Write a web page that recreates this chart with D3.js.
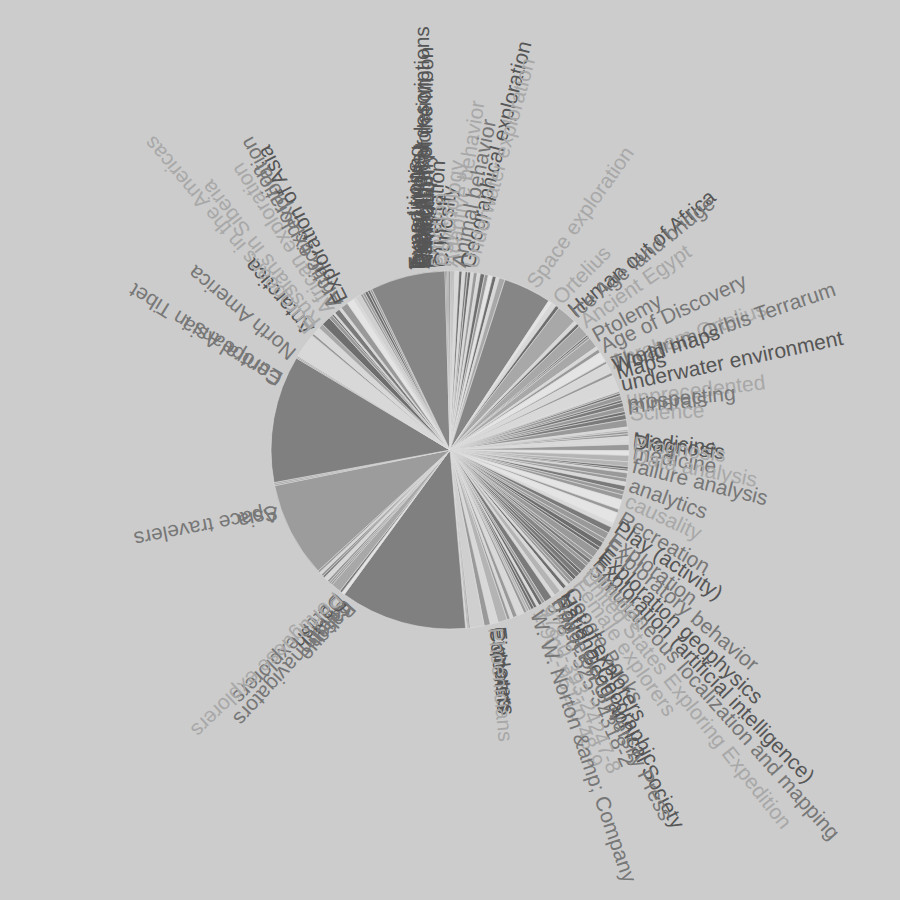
<!DOCTYPE html>
<html>
<head>
<meta charset="utf-8">
<script src="https://cdn.jsdelivr.net/npm/d3@7"></script>
<style>
  html, body { margin: 0; padding: 0; background: #cccccc; }
  svg { display: block; }
</style>
</head>
<body>
<svg id="chart" width="900" height="900"></svg>
<script>
// ---------- data (clockwise from 12 o'clock) ----------
const labels = [
  "Geographical descriptions","Antarctic exploration","Exploration of the Moon","Cartography","Navigation",
  "","expectation","emotion","","Curiosity","Psychology","","Adaptive behavior","","Animal behavior","",
  "Geographical exploration","Underwater exploration","",
  "","","Space exploration","","","Ortelius","","","Human out of Africa","Ice Age land bridge","",
  "Ancient Egypt","","","Ptolemy","","Age of Discovery","","Abraham Ortelius","Theatrum Orbis Terrarum","World maps",
  "","Maps","","","underwater environment","","","unprecedented","","prospecting","minerals","",
  "Science","","","","","Medicine","Diagnosis","Prognosis","","medicine","Data analysis","","failure analysis",
  "","","analytics","","causality","","","Recreation","","Play (activity)","","Exploration","",
  "Exploratory behavior","","Exploration geophysics","","Exploration (artificial intelligence)","",
  "Simultaneous localization and mapping","latitudes","","United States Exploring Expedition","",
  "Female explorers","","Google Books","List of explorers","","National Geographic","Royal Geographical Society",
  "Princeton University Press","","978-0-525-34318-2","","978-0-393-24247-8","","1-902-95110-48-9",
  "W. W. Norton &amp; Company","","","","","Explorers","Pioneers","Colonists","Phoenicians",
  "","","","","Basque","Italian","Circumnavigators","","Danish","Dutch explorers","Portuguese explorers","",
  "","Asia","Space travelers","","Central Asia","Europeans in Tibet","","North America","","","","",
  "Antarctica","Europeans in the Americas","","Russians in Siberia","","","African exploration","",
  "Arctic exploration","Antarctic exploration","","Exploration of Asia","","",
  "Expeditions","Travel writing","Descriptions","Exploration"
];
const values = [
  0.3,0.3,0.3,0.3,0.3,
  1.4,1.0,1.0,0.8,1.0,0.9,1.2,1.0,1.4,1.2,1.4,
  1.2,1.0,1.9,
  15.6,1.2,1.6,1.2,6.5,1.2,1.0,3.8,0.6,0.8,3.4,
  1.0,1.2,3.4,0.8,3.2,1.0,4.9,0.6,0.6,0.8,
  1.5,0.8,1.4,1.6,1.0,1.6,2.4,0.8,0.6,0.8,0.8,1.4,
  1.2,2.0,1.6,2.0,1.6,0.8,0.6,0.6,1.8,1.2,1.2,1.6,1.4,
  1.6,3.2,1.2,3.6,1.4,2.0,2.2,1.4,1.8,1.2,2.6,1.2,1.2,
  1.2,2.2,1.0,1.6,1.2,1.2,
  1.0,1.0,1.2,1.2,2.2,
  1.2,2.6,1.0,1.2,0.8,1.0,1.0,
  0.8,0.8,1.0,1.4,1.0,1.4,1.0,
  1.0,3.0,2.6,2.0,4.6,0.4,0.3,0.3,0.4,
  41.2,1.0,0.8,3.2,0.6,0.6,0.8,1.4,0.6,0.8,0.8,0.7,
  31.0,0.5,0.5,41.4,0.4,0.4,8.0,0.8,2.5,1.6,3.0,1.2,
  0.6,0.6,1.8,0.8,2.4,2.4,0.8,1.8,
  0.8,0.8,1.0,0.8,0.7,24.3,
  0.4,0.4,0.4,0.4
];

// ---------- styles ----------
const toneCodes = [
  "D","D2","D","D2","D",
  "L","D","L","D2","D","L","M","L","D","M","L2",
  "D","L","M2",
  "B","L2","L","D","M2","L","D","M2","D","M","M2",
  "L","M","L2","M","L","M","L","L","M","D",
  "M","D","D2","M","D","D2","M","L","M3","M","M","L",
  "L","M","L2","M3","M3","D","D","L","M","M","L","D2","M",
  "M","L2","M","L2","L","D2","M","M","D","D","M","M","D2",
  "M","B","D","D2","D","M",
  "M","L","D","L","M3",
  "L","D2","M","D","L","D","D",
  "M","M3","M","L","L","M","L",
  "M","M3","L","M","L3","D","D","D","L",
  "B2","L2","D2","M2","M","M","M","L","D","M","L","M",
  "A","M","M","B2","M","M","L","M","L","M2","D","M",
  "D","L","D2","L","M","L2","L","L3",
  "M","M","D","D","M","B",
  "D","D","D","D"
];
const tonePalette = {
  D: "#6e6e6e", D2: "#7a7a7a", M: "#999999", M2: "#a8a8a8", M3: "#b4b4b4",
  L: "#d8d8d8", L2: "#e4e4e4", L3: "#cfcfcf", B: "#868686", B2: "#808080", A: "#9c9c9c"
};

const W = 900, H = 900, cx = 450, cy = 450;
const radius = 179;
const labelRadius = 181, labelShift = 22;

const slices = labels.map((name, i) => ({ name, value: values[i], i }));

const pie = d3.pie().sort(null).value(d => d.value);
const arc = d3.arc().innerRadius(0).outerRadius(radius);
const arcs = pie(slices);

const color = d3.scaleOrdinal()
  .domain(d3.range(slices.length))
  .range(toneCodes.map(c => tonePalette[c]));

const svg = d3.select("#chart");
const g = svg.append("g").attr("transform", `translate(${cx},${cy})`);

g.selectAll("path.slice")
  .data(arcs)
  .join("path")
  .attr("class", "slice")
  .attr("d", arc)
  .attr("fill", d => color(d.data.i))
  .attr("stroke", "#dedede")
  .attr("stroke-width", 0.6);

const midDeg = d => ((d.startAngle + d.endAngle) / 2) * 180 / Math.PI;

g.selectAll("text.lbl")
  .data(arcs.filter(d => d.data.name !== ""))
  .join("text")
  .attr("class", "lbl")
  .attr("transform", d => `rotate(${midDeg(d) - 90}) translate(${labelRadius},${-labelShift})`)
  .attr("text-anchor", "start")
  .attr("font-family", "'Liberation Sans', Arial, Helvetica, sans-serif")
  .attr("font-size", 21)
  .attr("fill", d => d3.color(color(d.data.i)).darker(0.7).formatHex())
  .text(d => d.data.name);
</script>
</body>
</html>
